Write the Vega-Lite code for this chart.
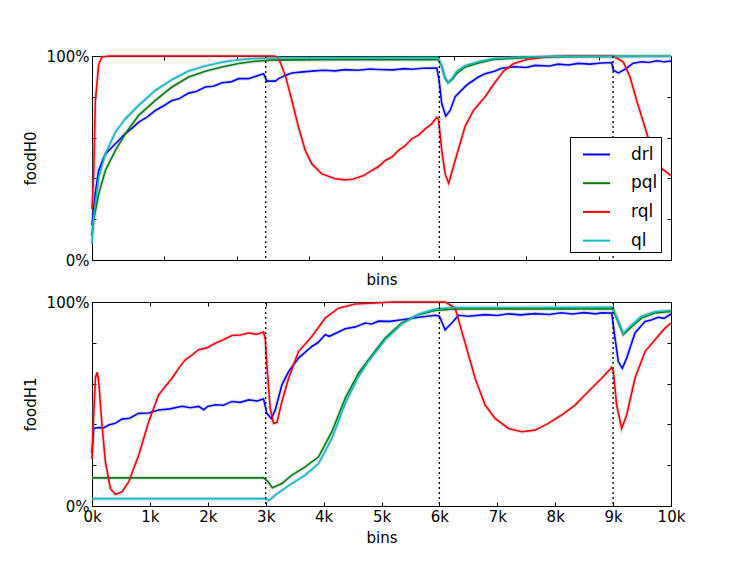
{
  "$schema": "https://vega.github.io/schema/vega-lite/v6.json",
  "padding": {"left": 22, "top": 47, "right": 5, "bottom": 5},
  "config": {
    "font": "DejaVu Sans",
    "view": {"stroke": "black", "strokeWidth": 1},
    "axis": {
      "grid": false, "domain": false, "tickColor": "black", "tickSize": -4, "labelFlush": false,
      "labelColor": "black", "titleColor": "black", "labelFontSize": 15, "titleFontSize": 15,
      "titleFontWeight": "normal", "labelFont": "DejaVu Sans", "titleFont": "DejaVu Sans"
    }
  },
  "datasets": {
    "curves": [
      {"panel": "H0", "series": "drl", "bin": 0, "value": 0.17},
      {"panel": "H0", "series": "drl", "bin": 58, "value": 0.33},
      {"panel": "H0", "series": "drl", "bin": 116, "value": 0.44},
      {"panel": "H0", "series": "drl", "bin": 231, "value": 0.52},
      {"panel": "H0", "series": "drl", "bin": 404, "value": 0.57},
      {"panel": "H0", "series": "drl", "bin": 576, "value": 0.62},
      {"panel": "H0", "series": "drl", "bin": 700, "value": 0.648},
      {"panel": "H0", "series": "drl", "bin": 806, "value": 0.676},
      {"panel": "H0", "series": "drl", "bin": 950, "value": 0.7},
      {"panel": "H0", "series": "drl", "bin": 1094, "value": 0.733},
      {"panel": "H0", "series": "drl", "bin": 1240, "value": 0.756},
      {"panel": "H0", "series": "drl", "bin": 1381, "value": 0.782},
      {"panel": "H0", "series": "drl", "bin": 1500, "value": 0.79},
      {"panel": "H0", "series": "drl", "bin": 1669, "value": 0.818},
      {"panel": "H0", "series": "drl", "bin": 1800, "value": 0.826},
      {"panel": "H0", "series": "drl", "bin": 1957, "value": 0.848},
      {"panel": "H0", "series": "drl", "bin": 2100, "value": 0.852},
      {"panel": "H0", "series": "drl", "bin": 2244, "value": 0.869},
      {"panel": "H0", "series": "drl", "bin": 2400, "value": 0.873},
      {"panel": "H0", "series": "drl", "bin": 2532, "value": 0.889},
      {"panel": "H0", "series": "drl", "bin": 2700, "value": 0.889},
      {"panel": "H0", "series": "drl", "bin": 2820, "value": 0.9},
      {"panel": "H0", "series": "drl", "bin": 2963, "value": 0.913},
      {"panel": "H0", "series": "drl", "bin": 3020, "value": 0.877},
      {"panel": "H0", "series": "drl", "bin": 3165, "value": 0.877},
      {"panel": "H0", "series": "drl", "bin": 3222, "value": 0.889},
      {"panel": "H0", "series": "drl", "bin": 3338, "value": 0.905},
      {"panel": "H0", "series": "drl", "bin": 3452, "value": 0.917},
      {"panel": "H0", "series": "drl", "bin": 3600, "value": 0.921},
      {"panel": "H0", "series": "drl", "bin": 3797, "value": 0.926},
      {"panel": "H0", "series": "drl", "bin": 4000, "value": 0.93},
      {"panel": "H0", "series": "drl", "bin": 4200, "value": 0.927},
      {"panel": "H0", "series": "drl", "bin": 4373, "value": 0.933},
      {"panel": "H0", "series": "drl", "bin": 4600, "value": 0.93},
      {"panel": "H0", "series": "drl", "bin": 4800, "value": 0.936},
      {"panel": "H0", "series": "drl", "bin": 4948, "value": 0.934},
      {"panel": "H0", "series": "drl", "bin": 5200, "value": 0.932},
      {"panel": "H0", "series": "drl", "bin": 5400, "value": 0.938},
      {"panel": "H0", "series": "drl", "bin": 5523, "value": 0.935},
      {"panel": "H0", "series": "drl", "bin": 5700, "value": 0.94},
      {"panel": "H0", "series": "drl", "bin": 5955, "value": 0.941},
      {"panel": "H0", "series": "drl", "bin": 5995, "value": 0.881},
      {"panel": "H0", "series": "drl", "bin": 6041, "value": 0.766},
      {"panel": "H0", "series": "drl", "bin": 6110, "value": 0.706},
      {"panel": "H0", "series": "drl", "bin": 6186, "value": 0.733},
      {"panel": "H0", "series": "drl", "bin": 6272, "value": 0.8},
      {"panel": "H0", "series": "drl", "bin": 6445, "value": 0.85},
      {"panel": "H0", "series": "drl", "bin": 6502, "value": 0.864},
      {"panel": "H0", "series": "drl", "bin": 6674, "value": 0.897},
      {"panel": "H0", "series": "drl", "bin": 6790, "value": 0.913},
      {"panel": "H0", "series": "drl", "bin": 6950, "value": 0.925},
      {"panel": "H0", "series": "drl", "bin": 7077, "value": 0.94},
      {"panel": "H0", "series": "drl", "bin": 7300, "value": 0.947},
      {"panel": "H0", "series": "drl", "bin": 7500, "value": 0.944},
      {"panel": "H0", "series": "drl", "bin": 7652, "value": 0.954},
      {"panel": "H0", "series": "drl", "bin": 7900, "value": 0.951},
      {"panel": "H0", "series": "drl", "bin": 8050, "value": 0.96},
      {"panel": "H0", "series": "drl", "bin": 8227, "value": 0.956},
      {"panel": "H0", "series": "drl", "bin": 8400, "value": 0.964},
      {"panel": "H0", "series": "drl", "bin": 8600, "value": 0.96},
      {"panel": "H0", "series": "drl", "bin": 8802, "value": 0.966},
      {"panel": "H0", "series": "drl", "bin": 8975, "value": 0.968},
      {"panel": "H0", "series": "drl", "bin": 9004, "value": 0.93},
      {"panel": "H0", "series": "drl", "bin": 9090, "value": 0.917},
      {"panel": "H0", "series": "drl", "bin": 9206, "value": 0.935},
      {"panel": "H0", "series": "drl", "bin": 9349, "value": 0.965},
      {"panel": "H0", "series": "drl", "bin": 9500, "value": 0.972},
      {"panel": "H0", "series": "drl", "bin": 9620, "value": 0.968},
      {"panel": "H0", "series": "drl", "bin": 9752, "value": 0.977},
      {"panel": "H0", "series": "drl", "bin": 9880, "value": 0.972},
      {"panel": "H0", "series": "drl", "bin": 10000, "value": 0.975},

      {"panel": "H0", "series": "pql", "bin": 0, "value": 0.12},
      {"panel": "H0", "series": "pql", "bin": 23, "value": 0.19},
      {"panel": "H0", "series": "pql", "bin": 116, "value": 0.324},
      {"panel": "H0", "series": "pql", "bin": 231, "value": 0.439},
      {"panel": "H0", "series": "pql", "bin": 404, "value": 0.537},
      {"panel": "H0", "series": "pql", "bin": 576, "value": 0.619},
      {"panel": "H0", "series": "pql", "bin": 806, "value": 0.709},
      {"panel": "H0", "series": "pql", "bin": 1094, "value": 0.782},
      {"panel": "H0", "series": "pql", "bin": 1381, "value": 0.848},
      {"panel": "H0", "series": "pql", "bin": 1669, "value": 0.897},
      {"panel": "H0", "series": "pql", "bin": 1957, "value": 0.925},
      {"panel": "H0", "series": "pql", "bin": 2244, "value": 0.946},
      {"panel": "H0", "series": "pql", "bin": 2532, "value": 0.963},
      {"panel": "H0", "series": "pql", "bin": 2820, "value": 0.974},
      {"panel": "H0", "series": "pql", "bin": 3100, "value": 0.98},
      {"panel": "H0", "series": "pql", "bin": 4000, "value": 0.982},
      {"panel": "H0", "series": "pql", "bin": 5980, "value": 0.983},
      {"panel": "H0", "series": "pql", "bin": 6040, "value": 0.95},
      {"panel": "H0", "series": "pql", "bin": 6100, "value": 0.89},
      {"panel": "H0", "series": "pql", "bin": 6150, "value": 0.87},
      {"panel": "H0", "series": "pql", "bin": 6220, "value": 0.885},
      {"panel": "H0", "series": "pql", "bin": 6300, "value": 0.915},
      {"panel": "H0", "series": "pql", "bin": 6445, "value": 0.945},
      {"panel": "H0", "series": "pql", "bin": 6674, "value": 0.966},
      {"panel": "H0", "series": "pql", "bin": 6933, "value": 0.983},
      {"panel": "H0", "series": "pql", "bin": 7451, "value": 0.992},
      {"panel": "H0", "series": "pql", "bin": 8000, "value": 0.997},
      {"panel": "H0", "series": "pql", "bin": 10000, "value": 0.999},

      {"panel": "H0", "series": "rql", "bin": 0, "value": 0.25},
      {"panel": "H0", "series": "rql", "bin": 29, "value": 0.42},
      {"panel": "H0", "series": "rql", "bin": 58, "value": 0.78},
      {"panel": "H0", "series": "rql", "bin": 116, "value": 0.96},
      {"panel": "H0", "series": "rql", "bin": 173, "value": 0.995},
      {"panel": "H0", "series": "rql", "bin": 300, "value": 1.0},
      {"panel": "H0", "series": "rql", "bin": 3150, "value": 1.0},
      {"panel": "H0", "series": "rql", "bin": 3222, "value": 0.99},
      {"panel": "H0", "series": "rql", "bin": 3338, "value": 0.905},
      {"panel": "H0", "series": "rql", "bin": 3452, "value": 0.782},
      {"panel": "H0", "series": "rql", "bin": 3567, "value": 0.651},
      {"panel": "H0", "series": "rql", "bin": 3683, "value": 0.537},
      {"panel": "H0", "series": "rql", "bin": 3797, "value": 0.471},
      {"panel": "H0", "series": "rql", "bin": 3970, "value": 0.422},
      {"panel": "H0", "series": "rql", "bin": 4201, "value": 0.398},
      {"panel": "H0", "series": "rql", "bin": 4373, "value": 0.393},
      {"panel": "H0", "series": "rql", "bin": 4500, "value": 0.396},
      {"panel": "H0", "series": "rql", "bin": 4603, "value": 0.406},
      {"panel": "H0", "series": "rql", "bin": 4700, "value": 0.415},
      {"panel": "H0", "series": "rql", "bin": 4833, "value": 0.439},
      {"panel": "H0", "series": "rql", "bin": 4950, "value": 0.458},
      {"panel": "H0", "series": "rql", "bin": 5064, "value": 0.488},
      {"panel": "H0", "series": "rql", "bin": 5180, "value": 0.505},
      {"panel": "H0", "series": "rql", "bin": 5294, "value": 0.537},
      {"panel": "H0", "series": "rql", "bin": 5410, "value": 0.56},
      {"panel": "H0", "series": "rql", "bin": 5523, "value": 0.594},
      {"panel": "H0", "series": "rql", "bin": 5640, "value": 0.612},
      {"panel": "H0", "series": "rql", "bin": 5754, "value": 0.643},
      {"panel": "H0", "series": "rql", "bin": 5860, "value": 0.665},
      {"panel": "H0", "series": "rql", "bin": 5955, "value": 0.7},
      {"panel": "H0", "series": "rql", "bin": 5984, "value": 0.69},
      {"panel": "H0", "series": "rql", "bin": 6041, "value": 0.537},
      {"panel": "H0", "series": "rql", "bin": 6099, "value": 0.422},
      {"panel": "H0", "series": "rql", "bin": 6160, "value": 0.376},
      {"panel": "H0", "series": "rql", "bin": 6272, "value": 0.488},
      {"panel": "H0", "series": "rql", "bin": 6445, "value": 0.655},
      {"panel": "H0", "series": "rql", "bin": 6588, "value": 0.733},
      {"panel": "H0", "series": "rql", "bin": 6790, "value": 0.8},
      {"panel": "H0", "series": "rql", "bin": 6933, "value": 0.86},
      {"panel": "H0", "series": "rql", "bin": 7106, "value": 0.925},
      {"panel": "H0", "series": "rql", "bin": 7279, "value": 0.962},
      {"panel": "H0", "series": "rql", "bin": 7508, "value": 0.983},
      {"panel": "H0", "series": "rql", "bin": 7853, "value": 0.995},
      {"panel": "H0", "series": "rql", "bin": 8200, "value": 1.0},
      {"panel": "H0", "series": "rql", "bin": 9004, "value": 1.0},
      {"panel": "H0", "series": "rql", "bin": 9177, "value": 0.97},
      {"panel": "H0", "series": "rql", "bin": 9293, "value": 0.897},
      {"panel": "H0", "series": "rql", "bin": 9407, "value": 0.782},
      {"panel": "H0", "series": "rql", "bin": 9522, "value": 0.676},
      {"panel": "H0", "series": "rql", "bin": 9637, "value": 0.57},
      {"panel": "H0", "series": "rql", "bin": 9810, "value": 0.455},
      {"panel": "H0", "series": "rql", "bin": 10000, "value": 0.414},

      {"panel": "H0", "series": "ql", "bin": 0, "value": 0.08},
      {"panel": "H0", "series": "ql", "bin": 23, "value": 0.2},
      {"panel": "H0", "series": "ql", "bin": 116, "value": 0.406},
      {"panel": "H0", "series": "ql", "bin": 231, "value": 0.52},
      {"panel": "H0", "series": "ql", "bin": 404, "value": 0.627},
      {"panel": "H0", "series": "ql", "bin": 576, "value": 0.692},
      {"panel": "H0", "series": "ql", "bin": 806, "value": 0.758},
      {"panel": "H0", "series": "ql", "bin": 1094, "value": 0.831},
      {"panel": "H0", "series": "ql", "bin": 1381, "value": 0.884},
      {"panel": "H0", "series": "ql", "bin": 1669, "value": 0.926},
      {"panel": "H0", "series": "ql", "bin": 1957, "value": 0.951},
      {"panel": "H0", "series": "ql", "bin": 2244, "value": 0.969},
      {"panel": "H0", "series": "ql", "bin": 2532, "value": 0.982},
      {"panel": "H0", "series": "ql", "bin": 2820, "value": 0.988},
      {"panel": "H0", "series": "ql", "bin": 3100, "value": 0.99},
      {"panel": "H0", "series": "ql", "bin": 5980, "value": 0.992},
      {"panel": "H0", "series": "ql", "bin": 6040, "value": 0.95},
      {"panel": "H0", "series": "ql", "bin": 6100, "value": 0.89},
      {"panel": "H0", "series": "ql", "bin": 6150, "value": 0.87},
      {"panel": "H0", "series": "ql", "bin": 6220, "value": 0.89},
      {"panel": "H0", "series": "ql", "bin": 6300, "value": 0.925},
      {"panel": "H0", "series": "ql", "bin": 6445, "value": 0.952},
      {"panel": "H0", "series": "ql", "bin": 6674, "value": 0.972},
      {"panel": "H0", "series": "ql", "bin": 6933, "value": 0.987},
      {"panel": "H0", "series": "ql", "bin": 7451, "value": 0.995},
      {"panel": "H0", "series": "ql", "bin": 8000, "value": 0.998},
      {"panel": "H0", "series": "ql", "bin": 10000, "value": 0.999},

      {"panel": "H1", "series": "drl", "bin": 0, "value": 0.26},
      {"panel": "H1", "series": "drl", "bin": 29, "value": 0.38},
      {"panel": "H1", "series": "drl", "bin": 116, "value": 0.385},
      {"panel": "H1", "series": "drl", "bin": 200, "value": 0.383},
      {"panel": "H1", "series": "drl", "bin": 288, "value": 0.397},
      {"panel": "H1", "series": "drl", "bin": 400, "value": 0.405},
      {"panel": "H1", "series": "drl", "bin": 518, "value": 0.426},
      {"panel": "H1", "series": "drl", "bin": 650, "value": 0.43},
      {"panel": "H1", "series": "drl", "bin": 806, "value": 0.454},
      {"panel": "H1", "series": "drl", "bin": 980, "value": 0.456},
      {"panel": "H1", "series": "drl", "bin": 1151, "value": 0.471},
      {"panel": "H1", "series": "drl", "bin": 1350, "value": 0.476},
      {"panel": "H1", "series": "drl", "bin": 1553, "value": 0.489},
      {"panel": "H1", "series": "drl", "bin": 1700, "value": 0.482},
      {"panel": "H1", "series": "drl", "bin": 1842, "value": 0.488},
      {"panel": "H1", "series": "drl", "bin": 1930, "value": 0.472},
      {"panel": "H1", "series": "drl", "bin": 2000, "value": 0.488},
      {"panel": "H1", "series": "drl", "bin": 2129, "value": 0.496},
      {"panel": "H1", "series": "drl", "bin": 2270, "value": 0.494},
      {"panel": "H1", "series": "drl", "bin": 2416, "value": 0.512},
      {"panel": "H1", "series": "drl", "bin": 2560, "value": 0.508},
      {"panel": "H1", "series": "drl", "bin": 2705, "value": 0.52},
      {"panel": "H1", "series": "drl", "bin": 2850, "value": 0.515},
      {"panel": "H1", "series": "drl", "bin": 2963, "value": 0.525},
      {"panel": "H1", "series": "drl", "bin": 3020, "value": 0.454},
      {"panel": "H1", "series": "drl", "bin": 3096, "value": 0.429},
      {"panel": "H1", "series": "drl", "bin": 3165, "value": 0.471},
      {"panel": "H1", "series": "drl", "bin": 3280, "value": 0.594},
      {"panel": "H1", "series": "drl", "bin": 3395, "value": 0.659},
      {"panel": "H1", "series": "drl", "bin": 3567, "value": 0.725},
      {"panel": "H1", "series": "drl", "bin": 3797, "value": 0.782},
      {"panel": "H1", "series": "drl", "bin": 3900, "value": 0.8},
      {"panel": "H1", "series": "drl", "bin": 4028, "value": 0.84},
      {"panel": "H1", "series": "drl", "bin": 4100, "value": 0.832},
      {"panel": "H1", "series": "drl", "bin": 4373, "value": 0.869},
      {"panel": "H1", "series": "drl", "bin": 4550, "value": 0.878},
      {"panel": "H1", "series": "drl", "bin": 4718, "value": 0.897},
      {"panel": "H1", "series": "drl", "bin": 4830, "value": 0.892},
      {"panel": "H1", "series": "drl", "bin": 4948, "value": 0.906},
      {"panel": "H1", "series": "drl", "bin": 5150, "value": 0.905},
      {"panel": "H1", "series": "drl", "bin": 5351, "value": 0.913},
      {"panel": "H1", "series": "drl", "bin": 5650, "value": 0.925},
      {"panel": "H1", "series": "drl", "bin": 5927, "value": 0.935},
      {"panel": "H1", "series": "drl", "bin": 6000, "value": 0.93},
      {"panel": "H1", "series": "drl", "bin": 6099, "value": 0.864},
      {"panel": "H1", "series": "drl", "bin": 6214, "value": 0.897},
      {"panel": "H1", "series": "drl", "bin": 6329, "value": 0.935},
      {"panel": "H1", "series": "drl", "bin": 6500, "value": 0.93},
      {"panel": "H1", "series": "drl", "bin": 6790, "value": 0.938},
      {"panel": "H1", "series": "drl", "bin": 7000, "value": 0.934},
      {"panel": "H1", "series": "drl", "bin": 7200, "value": 0.942},
      {"panel": "H1", "series": "drl", "bin": 7400, "value": 0.937},
      {"panel": "H1", "series": "drl", "bin": 7652, "value": 0.943},
      {"panel": "H1", "series": "drl", "bin": 7900, "value": 0.939},
      {"panel": "H1", "series": "drl", "bin": 8100, "value": 0.947},
      {"panel": "H1", "series": "drl", "bin": 8300, "value": 0.941},
      {"panel": "H1", "series": "drl", "bin": 8500, "value": 0.948},
      {"panel": "H1", "series": "drl", "bin": 8700, "value": 0.942},
      {"panel": "H1", "series": "drl", "bin": 8802, "value": 0.947},
      {"panel": "H1", "series": "drl", "bin": 8975, "value": 0.946},
      {"panel": "H1", "series": "drl", "bin": 9033, "value": 0.823},
      {"panel": "H1", "series": "drl", "bin": 9090, "value": 0.708},
      {"panel": "H1", "series": "drl", "bin": 9159, "value": 0.675},
      {"panel": "H1", "series": "drl", "bin": 9234, "value": 0.725},
      {"panel": "H1", "series": "drl", "bin": 9378, "value": 0.848},
      {"panel": "H1", "series": "drl", "bin": 9551, "value": 0.905},
      {"panel": "H1", "series": "drl", "bin": 9660, "value": 0.912},
      {"panel": "H1", "series": "drl", "bin": 9781, "value": 0.925},
      {"panel": "H1", "series": "drl", "bin": 9880, "value": 0.92},
      {"panel": "H1", "series": "drl", "bin": 10000, "value": 0.941},

      {"panel": "H1", "series": "pql", "bin": 0, "value": 0.138},
      {"panel": "H1", "series": "pql", "bin": 2963, "value": 0.138},
      {"panel": "H1", "series": "pql", "bin": 3040, "value": 0.12},
      {"panel": "H1", "series": "pql", "bin": 3115, "value": 0.089},
      {"panel": "H1", "series": "pql", "bin": 3280, "value": 0.11},
      {"panel": "H1", "series": "pql", "bin": 3452, "value": 0.151},
      {"panel": "H1", "series": "pql", "bin": 3683, "value": 0.192},
      {"panel": "H1", "series": "pql", "bin": 3913, "value": 0.241},
      {"panel": "H1", "series": "pql", "bin": 4143, "value": 0.364},
      {"panel": "H1", "series": "pql", "bin": 4373, "value": 0.528},
      {"panel": "H1", "series": "pql", "bin": 4603, "value": 0.651},
      {"panel": "H1", "series": "pql", "bin": 4776, "value": 0.717},
      {"panel": "H1", "series": "pql", "bin": 5064, "value": 0.823},
      {"panel": "H1", "series": "pql", "bin": 5351, "value": 0.897},
      {"panel": "H1", "series": "pql", "bin": 5639, "value": 0.938},
      {"panel": "H1", "series": "pql", "bin": 5927, "value": 0.958},
      {"panel": "H1", "series": "pql", "bin": 6272, "value": 0.966},
      {"panel": "H1", "series": "pql", "bin": 8990, "value": 0.967},
      {"panel": "H1", "series": "pql", "bin": 9061, "value": 0.921},
      {"panel": "H1", "series": "pql", "bin": 9177, "value": 0.84},
      {"panel": "H1", "series": "pql", "bin": 9292, "value": 0.872},
      {"panel": "H1", "series": "pql", "bin": 9493, "value": 0.921},
      {"panel": "H1", "series": "pql", "bin": 9724, "value": 0.946},
      {"panel": "H1", "series": "pql", "bin": 10000, "value": 0.954},

      {"panel": "H1", "series": "rql", "bin": 0, "value": 0.23},
      {"panel": "H1", "series": "rql", "bin": 29, "value": 0.446},
      {"panel": "H1", "series": "rql", "bin": 60, "value": 0.63},
      {"panel": "H1", "series": "rql", "bin": 90, "value": 0.655},
      {"panel": "H1", "series": "rql", "bin": 116, "value": 0.61},
      {"panel": "H1", "series": "rql", "bin": 173, "value": 0.397},
      {"panel": "H1", "series": "rql", "bin": 231, "value": 0.216},
      {"panel": "H1", "series": "rql", "bin": 318, "value": 0.085},
      {"panel": "H1", "series": "rql", "bin": 404, "value": 0.057},
      {"panel": "H1", "series": "rql", "bin": 518, "value": 0.069},
      {"panel": "H1", "series": "rql", "bin": 633, "value": 0.118},
      {"panel": "H1", "series": "rql", "bin": 806, "value": 0.249},
      {"panel": "H1", "series": "rql", "bin": 979, "value": 0.413},
      {"panel": "H1", "series": "rql", "bin": 1151, "value": 0.545},
      {"panel": "H1", "series": "rql", "bin": 1381, "value": 0.626},
      {"panel": "H1", "series": "rql", "bin": 1500, "value": 0.676},
      {"panel": "H1", "series": "rql", "bin": 1611, "value": 0.717},
      {"panel": "H1", "series": "rql", "bin": 1720, "value": 0.738},
      {"panel": "H1", "series": "rql", "bin": 1842, "value": 0.766},
      {"panel": "H1", "series": "rql", "bin": 1980, "value": 0.775},
      {"panel": "H1", "series": "rql", "bin": 2129, "value": 0.798},
      {"panel": "H1", "series": "rql", "bin": 2270, "value": 0.815},
      {"panel": "H1", "series": "rql", "bin": 2416, "value": 0.836},
      {"panel": "H1", "series": "rql", "bin": 2560, "value": 0.838},
      {"panel": "H1", "series": "rql", "bin": 2705, "value": 0.848},
      {"panel": "H1", "series": "rql", "bin": 2850, "value": 0.842},
      {"panel": "H1", "series": "rql", "bin": 2963, "value": 0.853},
      {"panel": "H1", "series": "rql", "bin": 2992, "value": 0.82},
      {"panel": "H1", "series": "rql", "bin": 3020, "value": 0.692},
      {"panel": "H1", "series": "rql", "bin": 3078, "value": 0.479},
      {"panel": "H1", "series": "rql", "bin": 3136, "value": 0.405},
      {"panel": "H1", "series": "rql", "bin": 3194, "value": 0.41},
      {"panel": "H1", "series": "rql", "bin": 3280, "value": 0.512},
      {"panel": "H1", "series": "rql", "bin": 3395, "value": 0.626},
      {"panel": "H1", "series": "rql", "bin": 3567, "value": 0.757},
      {"panel": "H1", "series": "rql", "bin": 3797, "value": 0.831},
      {"panel": "H1", "series": "rql", "bin": 4028, "value": 0.921},
      {"panel": "H1", "series": "rql", "bin": 4258, "value": 0.97},
      {"panel": "H1", "series": "rql", "bin": 4546, "value": 0.99},
      {"panel": "H1", "series": "rql", "bin": 4891, "value": 0.995},
      {"panel": "H1", "series": "rql", "bin": 5200, "value": 1.0},
      {"panel": "H1", "series": "rql", "bin": 6100, "value": 1.0},
      {"panel": "H1", "series": "rql", "bin": 6157, "value": 0.99},
      {"panel": "H1", "series": "rql", "bin": 6272, "value": 0.97},
      {"panel": "H1", "series": "rql", "bin": 6387, "value": 0.856},
      {"panel": "H1", "series": "rql", "bin": 6502, "value": 0.741},
      {"panel": "H1", "series": "rql", "bin": 6617, "value": 0.626},
      {"panel": "H1", "series": "rql", "bin": 6790, "value": 0.495},
      {"panel": "H1", "series": "rql", "bin": 6962, "value": 0.429},
      {"panel": "H1", "series": "rql", "bin": 7192, "value": 0.38},
      {"panel": "H1", "series": "rql", "bin": 7422, "value": 0.364},
      {"panel": "H1", "series": "rql", "bin": 7652, "value": 0.372},
      {"panel": "H1", "series": "rql", "bin": 7882, "value": 0.405},
      {"panel": "H1", "series": "rql", "bin": 8112, "value": 0.446},
      {"panel": "H1", "series": "rql", "bin": 8343, "value": 0.495},
      {"panel": "H1", "series": "rql", "bin": 8573, "value": 0.561},
      {"panel": "H1", "series": "rql", "bin": 8802, "value": 0.626},
      {"panel": "H1", "series": "rql", "bin": 8975, "value": 0.679},
      {"panel": "H1", "series": "rql", "bin": 9004, "value": 0.66},
      {"panel": "H1", "series": "rql", "bin": 9061, "value": 0.495},
      {"panel": "H1", "series": "rql", "bin": 9148, "value": 0.38},
      {"panel": "H1", "series": "rql", "bin": 9234, "value": 0.446},
      {"panel": "H1", "series": "rql", "bin": 9378, "value": 0.626},
      {"panel": "H1", "series": "rql", "bin": 9551, "value": 0.757},
      {"panel": "H1", "series": "rql", "bin": 9724, "value": 0.815},
      {"panel": "H1", "series": "rql", "bin": 9897, "value": 0.872},
      {"panel": "H1", "series": "rql", "bin": 10000, "value": 0.897},

      {"panel": "H1", "series": "ql", "bin": 0, "value": 0.036},
      {"panel": "H1", "series": "ql", "bin": 2990, "value": 0.036},
      {"panel": "H1", "series": "ql", "bin": 3060, "value": 0.028},
      {"panel": "H1", "series": "ql", "bin": 3165, "value": 0.053},
      {"panel": "H1", "series": "ql", "bin": 3395, "value": 0.1},
      {"panel": "H1", "series": "ql", "bin": 3683, "value": 0.151},
      {"panel": "H1", "series": "ql", "bin": 3913, "value": 0.208},
      {"panel": "H1", "series": "ql", "bin": 4143, "value": 0.331},
      {"panel": "H1", "series": "ql", "bin": 4373, "value": 0.503},
      {"panel": "H1", "series": "ql", "bin": 4603, "value": 0.635},
      {"panel": "H1", "series": "ql", "bin": 4776, "value": 0.71},
      {"panel": "H1", "series": "ql", "bin": 5064, "value": 0.815},
      {"panel": "H1", "series": "ql", "bin": 5351, "value": 0.893},
      {"panel": "H1", "series": "ql", "bin": 5639, "value": 0.94},
      {"panel": "H1", "series": "ql", "bin": 5927, "value": 0.965},
      {"panel": "H1", "series": "ql", "bin": 6272, "value": 0.973},
      {"panel": "H1", "series": "ql", "bin": 8990, "value": 0.974},
      {"panel": "H1", "series": "ql", "bin": 9061, "value": 0.925},
      {"panel": "H1", "series": "ql", "bin": 9177, "value": 0.845},
      {"panel": "H1", "series": "ql", "bin": 9292, "value": 0.88},
      {"panel": "H1", "series": "ql", "bin": 9493, "value": 0.93},
      {"panel": "H1", "series": "ql", "bin": 9724, "value": 0.952},
      {"panel": "H1", "series": "ql", "bin": 10000, "value": 0.958}
    ],
    "switches": [
      {"panel": "H0", "bin": 3000}, {"panel": "H0", "bin": 6000}, {"panel": "H0", "bin": 9000},
      {"panel": "H1", "bin": 3000}, {"panel": "H1", "bin": 6000}, {"panel": "H1", "bin": 9000}
    ]
  },
  "bounds": "flush",
  "spacing": 42,
  "resolve": {"legend": {"color": "independent"}},
  "vconcat": [
    {
      "width": 579,
      "height": 204,
      "layer": [
        {
          "data": {"name": "curves"},
          "transform": [{"filter": "datum.panel == 'H0'"}],
          "mark": {"type": "line", "strokeWidth": 4, "color": "#9a9ac8", "opacity": 0.3},
          "encoding": {
            "x": {"field": "bin", "type": "quantitative", "scale": {"domain": [0, 10000], "nice": false}, "axis": null},
            "y": {"field": "value", "type": "quantitative", "scale": {"domain": [0, 1], "nice": false}, "axis": null},
            "detail": {"field": "series"}
          }
        },
        {
          "data": {"name": "curves"},
          "transform": [{"filter": "datum.panel == 'H0'"}],
          "mark": {"type": "line", "strokeWidth": 1.6},
          "encoding": {
            "x": {"field": "bin", "type": "quantitative", "scale": {"domain": [0, 10000], "nice": false},
              "axis": {"title": "bins", "labels": false, "values": [0, 1250, 2500, 3750, 5000, 6250, 7500, 8750, 10000], "titlePadding": 12}},
            "y": {"field": "value", "type": "quantitative", "scale": {"domain": [0, 1], "nice": false},
              "axis": {"title": "foodH0", "values": [0, 0.2, 0.4, 0.6, 0.8, 1], "labelExpr": "datum.value == 0 ? '0%' : datum.value == 1 ? '100%' : ''", "labelPadding": 7, "titlePadding": 8}},
            "color": {"field": "series", "type": "nominal",
              "scale": {"domain": ["drl", "pql", "rql", "ql"], "range": ["#0000ff", "#008000", "#ff0000", "#00bfbf"]},
              "legend": {"orient": "none", "legendX": 478, "legendY": 81, "title": null, "strokeColor": "black", "fillColor": "white",
                "padding": 3, "symbolType": "stroke", "symbolSize": 729, "symbolStrokeWidth": 2, "symbolOffset": 9,
                "labelFontSize": 17, "labelOffset": 20, "labelFont": "DejaVu Sans", "labelColor": "black", "rowPadding": 5.7}}
          }
        },
        {
          "data": {"name": "curves"},
          "transform": [{"filter": "datum.panel == 'H0'"}],
          "mark": {"type": "line", "opacity": 0},
          "encoding": {
            "x": {"field": "bin", "type": "quantitative", "scale": {"domain": [0, 10000], "nice": false}, "axis": null},
            "y": {"field": "value", "type": "quantitative", "scale": {"domain": [0, 1], "nice": false},
              "axis": {"orient": "right", "title": null, "labels": false, "values": [0, 0.2, 0.4, 0.6, 0.8, 1]}},
            "detail": {"field": "series"}
          }
        },
        {
          "data": {"name": "switches"},
          "transform": [{"filter": "datum.panel == 'H0'"}],
          "mark": {"type": "rule", "color": "black", "strokeDash": [2, 3], "strokeWidth": 1.3},
          "encoding": {
            "x": {"field": "bin", "type": "quantitative", "scale": {"domain": [0, 10000], "nice": false},
              "axis": {"orient": "top", "title": null, "labels": false, "values": [0, 1250, 2500, 3750, 5000, 6250, 7500, 8750, 10000]}}
          }
        }
      ],
      "resolve": {"axis": {"x": "independent", "y": "independent"}}
    },
    {
      "width": 579,
      "height": 204,
      "layer": [
        {
          "data": {"name": "curves"},
          "transform": [{"filter": "datum.panel == 'H1'"}],
          "mark": {"type": "line", "strokeWidth": 4, "color": "#9a9ac8", "opacity": 0.3},
          "encoding": {
            "x": {"field": "bin", "type": "quantitative", "scale": {"domain": [0, 10000], "nice": false}, "axis": null},
            "y": {"field": "value", "type": "quantitative", "scale": {"domain": [0, 1], "nice": false}, "axis": null},
            "detail": {"field": "series"}
          }
        },
        {
          "data": {"name": "curves"},
          "transform": [{"filter": "datum.panel == 'H1'"}],
          "mark": {"type": "line", "strokeWidth": 1.6},
          "encoding": {
            "x": {"field": "bin", "type": "quantitative", "scale": {"domain": [0, 10000], "nice": false},
              "axis": {"title": "bins", "values": [0, 1000, 2000, 3000, 4000, 5000, 6000, 7000, 8000, 9000, 10000], "labelExpr": "(datum.value / 1000) + 'k'", "labelPadding": 7, "titlePadding": 6}},
            "y": {"field": "value", "type": "quantitative", "scale": {"domain": [0, 1], "nice": false},
              "axis": {"title": "foodH1", "values": [0, 0.2, 0.4, 0.6, 0.8, 1], "labelExpr": "datum.value == 0 ? '0%' : datum.value == 1 ? '100%' : ''", "labelPadding": 7, "titlePadding": 8}},
            "color": {"field": "series", "type": "nominal",
              "scale": {"domain": ["drl", "pql", "rql", "ql"], "range": ["#0000ff", "#008000", "#ff0000", "#00bfbf"]},
              "legend": null}
          }
        },
        {
          "data": {"name": "curves"},
          "transform": [{"filter": "datum.panel == 'H1'"}],
          "mark": {"type": "line", "opacity": 0},
          "encoding": {
            "x": {"field": "bin", "type": "quantitative", "scale": {"domain": [0, 10000], "nice": false}, "axis": null},
            "y": {"field": "value", "type": "quantitative", "scale": {"domain": [0, 1], "nice": false},
              "axis": {"orient": "right", "title": null, "labels": false, "values": [0, 0.2, 0.4, 0.6, 0.8, 1]}},
            "detail": {"field": "series"}
          }
        },
        {
          "data": {"name": "switches"},
          "transform": [{"filter": "datum.panel == 'H1'"}],
          "mark": {"type": "rule", "color": "black", "strokeDash": [2, 3], "strokeWidth": 1.3},
          "encoding": {
            "x": {"field": "bin", "type": "quantitative", "scale": {"domain": [0, 10000], "nice": false},
              "axis": {"orient": "top", "title": null, "labels": false, "values": [0, 1000, 2000, 3000, 4000, 5000, 6000, 7000, 8000, 9000, 10000]}}
          }
        }
      ],
      "resolve": {"axis": {"x": "independent", "y": "independent"}}
    }
  ]
}
